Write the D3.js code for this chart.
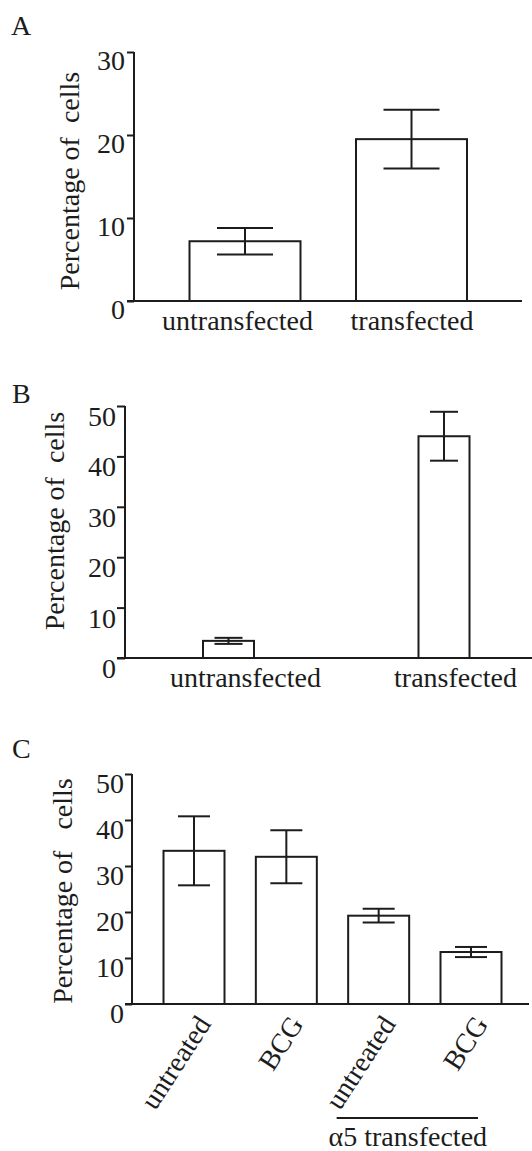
<!DOCTYPE html>
<html>
<head>
<meta charset="utf-8">
<script src="https://cdn.jsdelivr.net/npm/d3@7"></script>
</head>
<body style="margin:0;background:#fff">
<svg id="chart" width="532" height="1151" style="display:block"></svg>
<script>
// ---- data ----
const catsA = ["untransfected", "transfected"];
const meanA = [7.2, 19.5];
const errA  = [1.6, 3.55];
const ticksA = [0, 10, 20, 30];

const catsB = ["untransfected", "transfected"];
const meanB = [3.4, 44.0];
const errB  = [0.6, 4.85];
const ticksB = [0, 10, 20, 30, 40, 50];

const catsC = ["untreated", "BCG", "untreated ", "BCG "];
const meanC = [33.3, 32.0, 19.2, 11.3];
const errC  = [7.5, 5.75, 1.5, 1.1];
const ticksC = [0, 10, 20, 30, 40, 50];
const groupLabelC = "α5 transfected";
const yTitleAB = "Percentage of  cells";
const yTitleC = "Percentage of   cells";

// ---- drawing ----
const INK = "#1c1c1c";
const FS = 28;
const svg = d3.select("#chart");
svg.append("rect").attr("width", 532).attr("height", 1151).attr("fill", "#fff");

const st = sel => sel.attr("font-size", FS).style("font-family", '"Liberation Serif"').attr("fill", INK);

function panel(cfg) {
  const y = d3.scaleLinear().domain([0, cfg.ymax]).range([cfg.y0, cfg.y1]);
  const x = d3.scalePoint().domain(cfg.cats).range(cfg.xr);

  st(svg.append("text").attr("x", cfg.letterX).attr("y", cfg.letterY)).text(cfg.letter);

  const ax = svg.append("g").attr("transform", `translate(${cfg.ax},0)`)
    .call(d3.axisLeft(y).tickValues(cfg.ticks).tickFormat(d3.format("d"))
      .tickSize(cfg.tickLen).tickSizeOuter(0).tickPadding(cfg.tickPad));
  ax.attr("font-family", null).attr("font-size", null);
  ax.select(".domain").attr("stroke", INK).attr("stroke-width", 2)
    .attr("d", `M0,${cfg.y0}V${cfg.y1}`);
  ax.selectAll(".tick line").attr("stroke", INK).attr("stroke-width", 2);
  st(ax.selectAll(".tick text")).attr("dy", cfg.labelDy);

  svg.append("line").attr("x1", cfg.ax - cfg.tickLen).attr("x2", cfg.xEnd)
    .attr("y1", y(0)).attr("y2", y(0)).attr("stroke", INK).attr("stroke-width", 2);

  const data = cfg.cats.map((c, i) => ({c, m: cfg.mean[i], e: cfg.err[i]}));
  svg.selectAll("rect.bar" + cfg.letter).data(data).join("rect").attr("class", "bar" + cfg.letter)
    .attr("x", d => x(d.c) - cfg.bw / 2).attr("width", cfg.bw)
    .attr("y", d => y(d.m)).attr("height", d => y(0) - y(d.m))
    .attr("fill", "#fff").attr("stroke", INK).attr("stroke-width", 2);

  const eb = svg.selectAll("g.eb" + cfg.letter).data(data).join("g").attr("class", "eb" + cfg.letter)
    .attr("stroke", INK).attr("stroke-width", 2);
  eb.append("line").attr("x1", d => x(d.c)).attr("x2", d => x(d.c))
    .attr("y1", d => y(d.m + d.e)).attr("y2", d => y(d.m - d.e));
  eb.append("line").attr("x1", d => x(d.c) - cfg.cw / 2).attr("x2", d => x(d.c) + cfg.cw / 2)
    .attr("y1", d => y(d.m + d.e)).attr("y2", d => y(d.m + d.e));
  eb.append("line").attr("x1", d => x(d.c) - cfg.cw / 2).attr("x2", d => x(d.c) + cfg.cw / 2)
    .attr("y1", d => y(d.m - d.e)).attr("y2", d => y(d.m - d.e));

  st(svg.append("text").attr("transform", `translate(${cfg.titleX},${cfg.titleY}) rotate(-90)`)
    .attr("text-anchor", "middle").attr("xml:space", "preserve").style("white-space", "pre")).text(cfg.title);

  return {x, y};
}

// Panel A
const pA = panel({
  letter: "A", letterX: 11, letterY: 35,
  cats: catsA, mean: meanA, err: errA, ticks: ticksA, ymax: 30,
  y0: 301, y1: 52, xr: [245, 411.5], ax: 134, xEnd: 522,
  tickLen: 7, tickPad: 2, labelDy: 17.5, bw: 111, cw: 56,
  title: yTitleAB, titleX: 79, titleY: 181
});
const xlOffA = [-7.5, 0.5];
st(svg.selectAll("text.xlA").data(catsA).join("text").attr("class", "xlA")
  .attr("x", (d, i) => pA.x(d) + xlOffA[i]).attr("y", 330).attr("text-anchor", "middle")).text(d => d);

// Panel B
const pB = panel({
  letter: "B", letterX: 12, letterY: 403,
  cats: catsB, mean: meanB, err: errB, ticks: ticksB, ymax: 50,
  y0: 658, y1: 406, xr: [228.5, 444], ax: 125, xEnd: 532,
  tickLen: 8, tickPad: 1, labelDy: 19.5, bw: 51, cw: 28,
  title: yTitleAB, titleX: 64, titleY: 521
});
const xlOffB = [17, 11.5];
st(svg.selectAll("text.xlB").data(catsB).join("text").attr("class", "xlB")
  .attr("x", (d, i) => pB.x(d) + xlOffB[i]).attr("y", 687).attr("text-anchor", "middle")).text(d => d);

// Panel C
const pC = panel({
  letter: "C", letterX: 12, letterY: 758,
  cats: catsC, mean: meanC, err: errC, ticks: ticksC, ymax: 50,
  y0: 1004, y1: 774, xr: [194, 471], ax: 132, xEnd: 529,
  tickLen: 7, tickPad: 1, labelDy: 18.5, bw: 61, cw: 32,
  title: yTitleC, titleX: 72, titleY: 891
});
st(svg.selectAll("text.xlC").data(catsC).join("text").attr("class", "xlC")
  .attr("transform", d => `translate(${pC.x(d) + 18},${1024}) rotate(-57)`)
  .attr("text-anchor", "end")).text(d => d.trim());
svg.append("line").attr("x1", pC.x(catsC[2]) - 42).attr("x2", pC.x(catsC[3]) + 7)
  .attr("y1", 1118).attr("y2", 1118).attr("stroke", INK).attr("stroke-width", 2);
st(svg.append("text").attr("x", (pC.x(catsC[2]) + pC.x(catsC[3])) / 2 - 17).attr("y", 1146)
  .attr("text-anchor", "middle")).text(groupLabelC);
</script>
</body>
</html>
